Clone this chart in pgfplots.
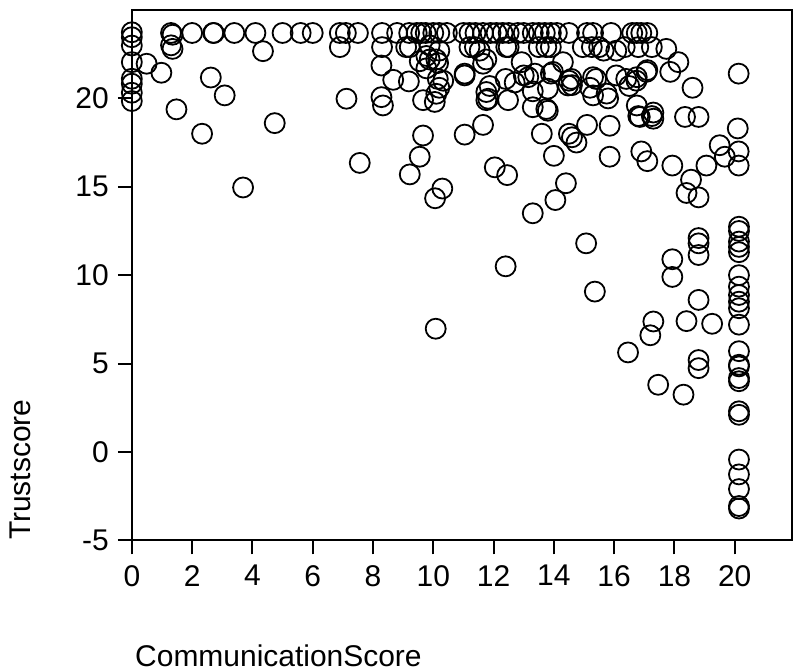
\documentclass[border=0pt]{standalone}
\usepackage{fontspec}
\setmainfont{Liberation Sans}
\usepackage{pgfplots}
\pgfplotsset{compat=1.18}

\begin{document}
\begin{tikzpicture}
\path[use as bounding box] (-66pt,-65pt) rectangle (334.5pt,270.5pt);
\begin{axis}[at={(0,0)}, anchor=south west, scale only axis,
  width=330.5pt, height=265.5pt,
  xmin=0, xmax=21.9, ymin=-5, ymax=25,
  xtick={0,2,...,20}, ytick={-5,0,5,10,15,20},
  tick pos=left, tick align=outside, major tick length=7pt,
  axis line style={line width=1pt}, every tick/.style={black,line width=1pt},
  /pgf/number format/assume math mode=true,
  tick label style={font=\fontsize{15pt}{18pt}\selectfont},
  xticklabel style={yshift=-2pt}, yticklabel style={xshift=-1pt},
  xlabel={CommunicationScore}, ylabel={Trustscore},
  label style={font=\fontsize{15pt}{18pt}\selectfont, inner sep=0pt},
  xlabel style={at={(axis description cs:0,0)}, anchor=base west, xshift=1.5pt, yshift=-63pt},
  ylabel style={at={(axis description cs:-0.1528,0)}, anchor=south west},
  clip=false]
\addplot[only marks, mark=o, mark size=5pt, mark options={line width=0.9pt,black}] coordinates {
(0,23.74)(0,23.46)(0,22.99)(0,22.05)(0,21.11)(0,20.83)(0,20.32)(0,19.85)
(0.49,21.96)(0.98,21.45)
(1.3,23.7)(1.35,23.6)(1.3,23.0)(1.35,22.8)(1.48,19.38)
(2.0,23.7)(2.7,23.7)(2.72,23.7)(2.62,21.18)(2.33,18.0)(3.08,20.17)(3.4,23.7)(3.69,14.96)
(4.1,23.7)(4.35,22.67)(4.74,18.6)(5.0,23.7)(5.6,23.7)(6.0,23.7)
(6.9,23.7)(7.1,23.7)(7.5,23.7)(6.9,22.9)(7.12,19.98)(7.56,16.35)
(8.3,23.7)(8.3,22.9)(8.28,21.86)(8.67,21.05)(8.28,20.07)(8.33,19.6)(8.8,23.7)
(9.2,23.7)(9.45,23.7)(9.6,23.7)(9.75,23.7)(10.0,23.7)(10.2,23.7)(10.45,23.7)
(9.1,22.9)(9.22,22.9)(9.88,23.0)(10.2,22.7)(9.77,22.4)(9.55,22.1)(9.88,22.2)(10.1,22.2)(10.16,22.0)(9.77,21.7)
(9.19,20.96)(10.15,21.1)(10.2,20.6)(10.33,21.0)(10.1,20.26)(10.05,19.8)(9.66,19.9)
(9.66,17.9)(9.55,16.7)(9.22,15.7)(10.3,14.9)(10.06,14.35)(10.08,6.97)
(11.0,23.7)(11.2,23.7)(11.4,23.7)(11.65,23.7)(11.9,23.7)(12.1,23.7)(12.3,23.7)(12.5,23.7)(12.8,23.7)
(11.2,22.9)(11.38,22.9)(11.54,22.7)(12.42,22.9)(12.5,22.9)(11.65,21.96)(11.76,22.2)(11.04,21.4)(11.04,21.3)
(12.4,21.1)(12.7,20.9)(11.76,20.36)(11.87,20.7)(11.76,19.9)(11.82,19.98)(12.48,19.9)
(11.04,17.95)(11.65,18.5)(12.04,16.1)(12.45,15.66)(12.4,10.5)
(13.0,23.7)(13.3,23.7)(13.5,23.7)(13.7,23.7)(13.9,23.7)(14.1,23.7)(14.5,23.7)(15.1,23.7)(15.3,23.7)(15.9,23.7)(16.6,23.7)(16.75,23.7)(16.9,23.7)(17.1,23.7)
(13.5,22.9)(13.75,22.9)(13.9,22.9)(14.96,22.9)(15.26,22.9)(15.5,22.9)(15.65,22.7)(16.07,22.7)(16.35,22.9)(16.8,22.9)(17.25,22.9)(17.73,22.8)
(12.93,22.05)(14.3,22.05)(18.13,22.05)
(13.0,21.3)(13.15,21.2)(13.37,21.4)(13.9,21.4)(13.97,21.5)(14.5,21.0)(14.58,21.1)(15.3,21.2)(15.4,21.1)(16.07,21.3)(16.4,21.1)(16.74,21.0)(16.75,21.2)(17.07,21.5)(17.1,21.6)(17.86,21.5)(20.13,21.4)
(13.3,20.4)(13.8,20.55)(14.6,20.75)(14.47,20.73)(15.2,20.6)(15.3,20.17)(15.75,20.27)(15.8,20.0)(16.5,20.7)(18.6,20.6)
(13.3,19.5)(13.8,19.3)(13.75,19.4)(16.75,19.6)(16.8,19.0)(17.25,19.0)(17.3,18.85)(17.3,19.2)(18.35,18.95)(18.8,18.95)(16.85,18.95)
(13.6,18.0)(14.5,18.0)(14.6,17.8)(14.75,17.5)(15.1,18.5)(15.85,18.45)(20.1,18.3)
(14.0,16.75)(15.85,16.7)(16.9,17.0)(17.1,16.45)(17.93,16.2)(19.06,16.2)(19.5,17.35)(19.67,16.7)(20.13,17.0)(20.13,16.2)
(14.4,15.2)(14.05,14.25)(18.55,15.4)(18.4,14.65)(18.8,14.4)(13.3,13.5)
(15.07,11.8)(15.36,9.07)(17.93,10.9)(17.93,9.9)(18.8,12.1)(18.8,11.8)(18.8,11.14)(18.8,8.6)
(17.3,7.38)(17.2,6.6)(18.4,7.4)(19.25,7.25)(16.46,5.63)(18.8,5.2)(18.8,4.74)(17.46,3.8)(18.3,3.24)
(20.14,12.74)(20.14,12.5)(20.14,11.9)(20.14,11.6)(20.14,11.3)(20.14,10.0)(20.14,9.35)(20.14,8.88)
(20.14,8.5)(20.14,8.13)(20.14,7.2)(20.14,5.7)(20.14,4.93)(20.14,4.84)(20.14,4.18)(20.14,4.0)
(20.14,2.3)(20.14,2.1)(20.14,-0.43)(20.14,-1.27)(20.14,-2.1)(20.14,-3.06)(20.14,-3.2)
};
\end{axis}
\end{tikzpicture}
\end{document}
